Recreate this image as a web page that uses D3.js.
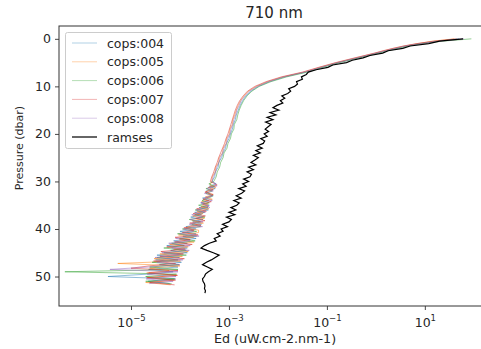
<!DOCTYPE html>
<html lang="en">
<head>
<meta charset="utf-8">
<title>710 nm</title>
<script src="https://cdn.jsdelivr.net/npm/d3@7"></script>
<style>
  body { margin: 0; background: #fff; overflow: hidden; }
  text { font-family: 'DejaVu Sans', sans-serif; fill: #262626; }
</style>
</head>
<body>
<div id="chart"></div>
<script>
// pressure levels (dbar) of the cops casts, two sampling grids
let copsPressureA = [0,0.5,1,1.5,2,2.5,3,4,5,6,7,8,9,10,11,12,13,14,15,16,17,18,19,20,21,22,23,24,25,26,27,28,29,30,
  30.5,31,31.5,32,32.5,33,33.5,34,34.5,35,35.5,36,36.5,37,37.5,38,38.5,39,39.5,40,
  40.5,41,41.5,42,42.5,43,43.5,44,44.5,45,45.5,46,46.5,47,47.5,48,48.5,49,49.5,50,50.5,51,51.5]
let copsPressureB = [0,0.5,1,1.5,2,2.5,3,4,5,6,7,8,9,10,11,12,13,14,15,16,17,18,19,20,21,22,23,24,25,26,27,28,29,30,
  30.75,31.25,31.75,32.25,32.75,33.25,33.75,34.25,34.75,35.25,35.75,36.25,36.75,37.25,37.75,38.25,38.75,39.25,39.75,40.25,
  40.75,41.25,41.75,42.25,42.75,43.25,43.75,44.25,44.75,45.25,45.75,46.25,46.75,47.25,47.75,48.25,48.75,49.25,49.75,50.25,50.75,51.25,51.75]

// log10 of Ed
let cops004 = [1.7,1.22,0.88,0.63,0.42,0.22,0.03,-0.36,-0.76,-1.1,-1.43,-1.86,-2.17,-2.4,-2.55,-2.65,-2.72,-2.77,-2.81,-2.85,-2.87,-2.91,-2.93,-2.97,-3.0,-3.05,-3.07,-3.12,-3.15,-3.21,-3.22,-3.28,-3.29,-3.35,
  -3.26,-3.40,-3.28,-3.47,-3.42,-3.34,-3.54,-3.41,-3.57,-3.40,-3.61,-3.42,-3.70,-3.56,-3.78,-3.53,-3.74,-3.56,-3.88,-3.67,
  -4.00,-3.67,-3.94,-3.67,-4.13,-3.85,-4.27,-3.85,-4.19,-3.85,-4.47,-4.01,-4.50,-3.97,-4.42,-4.04,-4.64,-4.14,-4.67,-5.47,-4.09,-4.65,-4.21]
let cops005 = [1.6,1.15,0.85,0.58,0.36,0.17,-0.01,-0.41,-0.8,-1.15,-1.47,-1.9,-2.21,-2.44,-2.6,-2.69,-2.76,-2.81,-2.85,-2.88,-2.92,-2.93,-2.98,-2.99,-3.05,-3.06,-3.12,-3.13,-3.2,-3.21,-3.27,-3.28,-3.34,-3.35,
  -3.39,-3.27,-3.40,-3.48,-3.33,-3.48,-3.34,-3.56,-3.42,-3.57,-3.41,-3.65,-3.53,-3.74,-3.50,-3.75,-3.52,-3.75,-3.88,-3.62,
  -3.62,-4.03,-3.72,-4.01,-3.71,-4.21,-3.83,-4.13,-3.83,-4.41,-3.95,-4.53,-3.99,-5.27,-4.0,-4.62,-4.22,-4.68,-4.07,-4.66,-4.13,-4.70,-4.19]
let cops006 = [1.95,1.35,0.95,0.68,0.45,0.25,0.06,-0.34,-0.74,-1.08,-1.4,-1.82,-2.14,-2.38,-2.53,-2.63,-2.7,-2.75,-2.79,-2.82,-2.84,-2.89,-2.9,-2.95,-2.97,-3.02,-3.04,-3.1,-3.12,-3.17,-3.19,-3.24,-3.26,-3.31,
  -3.41,-3.29,-3.47,-3.34,-3.47,-3.32,-3.41,-3.55,-3.40,-3.62,-3.43,-3.69,-3.50,-3.70,-3.49,-3.81,-3.58,-3.76,-3.58,-3.95,
  -3.66,-4.05,-3.66,-4.01,-3.69,-4.17,-3.91,-4.33,-3.87,-4.33,-3.87,-4.47,-4.04,-4.57,-4.02,-4.62,-4.04,-6.35,-4.07,-4.70,-4.11,-4.70,-4.17]
let cops007 = [1.65,1.18,0.84,0.57,0.35,0.15,-0.03,-0.43,-0.82,-1.17,-1.5,-1.93,-2.24,-2.47,-2.62,-2.71,-2.78,-2.83,-2.87,-2.9,-2.93,-2.96,-2.99,-3.02,-3.06,-3.09,-3.13,-3.17,-3.21,-3.24,-3.28,-3.31,-3.35,-3.38,
  -3.24,-3.42,-3.32,-3.49,-3.32,-3.40,-3.53,-3.36,-3.54,-3.42,-3.66,-3.46,-3.73,-3.48,-3.68,-3.49,-3.80,-3.57,-3.92,-3.71,
  -3.95,-3.63,-4.10,-3.79,-4.11,-3.75,-4.27,-3.89,-4.39,-3.93,-4.41,-3.91,-4.54,-4.09,-4.62,-5.0,-4.04,-4.64,-4.05,-4.68,-4.09,-4.62,-4.11]
let cops008 = [1.8,1.28,0.92,0.6,0.39,0.19,0.0,-0.39,-0.79,-1.13,-1.46,-1.88,-2.19,-2.42,-2.58,-2.67,-2.75,-2.79,-2.84,-2.86,-2.9,-2.92,-2.96,-2.98,-3.03,-3.05,-3.1,-3.13,-3.18,-3.2,-3.25,-3.27,-3.32,-3.34,
  -3.28,-3.25,-3.45,-3.32,-3.50,-3.33,-3.49,-3.34,-3.58,-3.46,-3.39,-3.67,-3.48,-3.76,-3.54,-3.79,-3.53,-3.81,-3.54,-3.93,
  -3.72,-4.01,-3.61,-4.09,-3.79,-4.23,-3.79,-4.17,-3.81,-4.37,-4.01,-4.51,-3.94,-4.47,-4.00,-4.62,-5.43,-4.04,-4.67,-4.08,-4.69,-4.14,-4.63]

let ramsesPressure = [0,0.5,1,1.5,2,2.5,3,3.5,4,4.5,5,5.5,6,6.5,7,7.5,8,8.5,9,9.5,
  10,10.5,11,11.5,12,12.5,13,13.5,14,14.5,15,15.5,16,16.5,17,17.5,18,18.5,19,19.5,
  20,20.5,21,21.5,22,22.5,23,23.5,24,24.5,25,25.5,26,26.5,27,27.5,28,28.5,29,29.5,
  30,30.5,31,31.5,32,32.5,33,33.5,34,34.5,35,35.5,36,36.5,37,37.5,38,38.5,39,39.5,
  40,40.5,41,41.5,42,42.5,43,43.5,44,44.5,45,45.5,46,46.5,47,47.5,48,48.5,49,49.5,
  50,50.5,51,51.5,52,52.5,53,53.5]
let ramses = [1.78,1.3,1.08,0.7,0.55,0.25,0.14,-0.12,-0.26,-0.48,
  -0.6,-0.88,-0.98,-1.22,-1.38,-1.42,-1.52,-1.5,-1.62,-1.6,
  -1.66,-1.78,-1.74,-1.8,-1.92,-1.86,-1.95,-1.9,-2.02,-2.1,
  -1.98,-2.16,-2.04,-2.22,-2.1,-2.25,-2.14,-2.2,-2.26,-2.19,
  -2.28,-2.22,-2.35,-2.27,-2.3,-2.42,-2.32,-2.45,-2.36,-2.5,
  -2.4,-2.47,-2.55,-2.45,-2.6,-2.5,-2.63,-2.54,-2.57,-2.7,
  -2.6,-2.72,-2.65,-2.8,-2.68,-2.74,-2.85,-2.75,-2.9,-2.79,
  -2.84,-2.96,-2.86,-3.0,-2.88,-3.05,-2.95,-3.0,-3.13,-3.03,
  -3.16,-3.12,-3.24,-3.18,-3.3,-3.26,-3.4,-3.5,-3.57,-3.45,
  -3.32,-3.2,-3.28,-3.36,-3.46,-3.54,-3.44,-3.34,-3.42,-3.48,
  -3.5,-3.54,-3.53,-3.5,-3.49,-3.5,-3.48,-3.49]

let seriesNames = ['cops:004','cops:005','cops:006','cops:007','cops:008','ramses']
let seriesColors = ['#1f77b4','#ff7f0e','#2ca02c','#d62728','#9467bd','#000000']
let xTicks = [1e-5, 1e-3, 1e-1, 1e1]
let xTickExp = ['\u22125', '\u22123', '\u22121', '1']
let yTicks = [0, 10, 20, 30, 40, 50]

let W = 481, H = 349
let margin = {top: 26, left: 59}
let plotW = 430, plotH = 280

let svg = d3.select('#chart').append('svg')
  .attr('width', W)
  .attr('height', H)

let scale_x = d3.scaleLog()
  .domain([Math.pow(10, -6.47), Math.pow(10, 2.31)])
  .range([margin.left, margin.left + plotW])
let scale_y = d3.scaleLinear()
  .domain([56.2, -2.7])
  .range([margin.top + plotH, margin.top])

svg.append('clipPath').attr('id', 'clip')
  .append('rect')
  .attr('x', margin.left).attr('y', margin.top)
  .attr('width', plotW).attr('height', plotH)

let line = d3.line()
  .x(d => scale_x(Math.pow(10, d[1])))
  .y(d => scale_y(d[0]))

let cops = [cops004, cops005, cops006, cops007, cops008]
let copsGrid = [copsPressureA, copsPressureB, copsPressureA, copsPressureB, copsPressureA]
let plot = svg.append('g').attr('clip-path', 'url(#clip)')
cops.forEach((vals, i) => {
  plot.append('path')
    .datum(copsGrid[i].map((p, j) => [p, vals[j]]))
    .attr('d', line)
    .attr('fill', 'none')
    .attr('stroke', seriesColors[i])
    .attr('stroke-opacity', 0.5)
    .attr('stroke-width', 1)
})
plot.append('path')
  .datum(ramsesPressure.map((p, j) => [p, ramses[j]]))
  .attr('d', line)
  .attr('fill', 'none')
  .attr('stroke', '#000')
  .attr('stroke-width', 1.2)

// axes
let x_axis = d3.axisBottom(scale_x).tickValues(xTicks).tickSize(4).tickFormat('')
let gx = svg.append('g')
  .attr('transform', 'translate(0,' + (margin.top + plotH) + ')')
  .call(x_axis)
gx.selectAll('.tick').append('text')
  .attr('y', 21)
  .attr('fill', '#262626')
  .attr('text-anchor', 'middle')
  .style('font-size', '12.5px')
  .each(function (d, i) {
    let t = d3.select(this)
    t.append('tspan').text('10')
    t.append('tspan').attr('dy', -6).style('font-size', '8.5px').text(xTickExp[i])
  })

let y_axis = d3.axisLeft(scale_y).tickValues(yTicks).tickSize(4).tickPadding(4)
let gy = svg.append('g')
  .attr('transform', 'translate(' + margin.left + ',0)')
  .call(y_axis)
gy.selectAll('text').style('font-size', '12.5px').attr('fill', '#262626')

svg.selectAll('.domain').remove()
svg.selectAll('.tick line').attr('stroke', '#333').attr('stroke-width', 0.9)

// spines
svg.append('rect')
  .attr('x', margin.left).attr('y', margin.top)
  .attr('width', plotW).attr('height', plotH)
  .attr('fill', 'none')
  .attr('stroke', '#333')
  .attr('stroke-width', 1)

svg.append('text')
  .attr('x', 274).attr('y', 18)
  .attr('text-anchor', 'middle')
  .style('font-size', '15px')
  .text('710 nm')

svg.append('text')
  .attr('x', 275).attr('y', 343)
  .attr('text-anchor', 'middle')
  .style('font-size', '12.7px')
  .text('Ed (uW.cm-2.nm-1)')

svg.append('text')
  .attr('transform', 'translate(23,148) rotate(-90)')
  .attr('text-anchor', 'middle')
  .style('font-size', '11px')
  .text('Pressure (dbar)')

// legend
let legend = svg.append('g')
legend.append('rect')
  .attr('x', 65.5).attr('y', 32.5)
  .attr('width', 106).attr('height', 116)
  .attr('rx', 2)
  .attr('fill', '#fff').attr('fill-opacity', 0.8)
  .attr('stroke', '#ccc')
seriesNames.forEach((name, i) => {
  let yy = 43 + i * 18.8
  legend.append('line')
    .attr('x1', 72).attr('x2', 97)
    .attr('y1', yy).attr('y2', yy)
    .attr('stroke', seriesColors[i])
    .attr('stroke-opacity', i < 5 ? 0.35 : 1)
    .attr('stroke-width', i < 5 ? 1 : 1.2)
  legend.append('text')
    .attr('x', 107).attr('y', yy + 4.5)
    .style('font-size', '12.5px')
    .text(name)
})
</script>
</body>
</html>
